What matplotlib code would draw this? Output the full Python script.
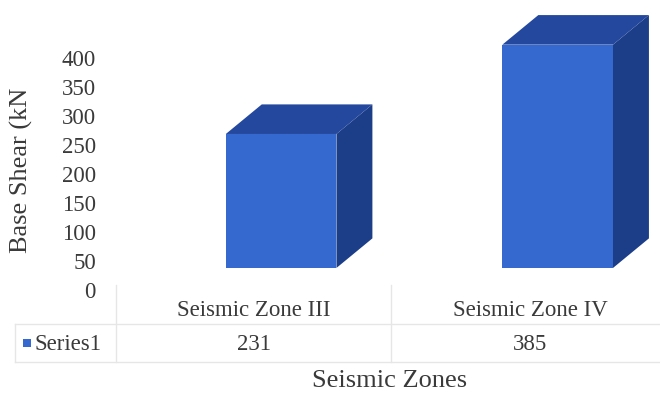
import matplotlib
matplotlib.use("Agg")
import matplotlib.pyplot as plt
from matplotlib.patches import Polygon
import numpy as np

plt.rcParams["font.family"] = ["Liberation Serif", "DejaVu Serif"]

# Data
zones = ["Seismic Zone III", "Seismic Zone IV"]
base_shear = [231, 385]
series_name = "Series1"
y_ticks = [0, 50, 100, 150, 200, 250, 300, 350, 400]

# Colours of the 3D faces
front_col = "#3569d0"
top_col = "#24489e"
side_col = "#1c3d87"
text_col = "#3a3a3a"
grid_col = "#e6e6e6"

W, H = 660, 397
fig = plt.figure(figsize=(W / 100, H / 100), dpi=100)

# main plotting area: 0 tick at y=290 px, 50 units every 29 px
ax = fig.add_axes([100 / W, (H - 290) / H, 560 / W, 290 / H])
ax.set_ylim(0, 290 * 50 / 29)
ax.set_xlim(-0.555, 1.470)
ax.set_yticks(y_ticks)
ax.set_yticklabels([str(t) for t in y_ticks])
ax.tick_params(axis="y", length=0, pad=3, labelsize=16.5, colors=text_col)
ax.set_xticks([])
for sp in ax.spines.values():
    sp.set_visible(False)

floor = 38      # front face sits a bit above the back-wall zero
offset = 0.1    # front face shifted right of the category centre
width = 0.4
dx, dy = 0.13, 51

for i, v in enumerate(base_shear):
    xl = i + offset - width / 2
    xr = xl + width
    b, t = floor, floor + v
    ax.add_patch(Polygon([(xr, b), (xr + dx, b + dy), (xr + dx, t + dy), (xr, t)],
                         closed=True, facecolor=side_col, edgecolor="none"))
    ax.add_patch(Polygon([(xl, t), (xl + dx, t + dy), (xr + dx, t + dy), (xr, t)],
                         closed=True, facecolor=top_col, edgecolor="none"))
    ax.add_patch(Polygon([(xl, b), (xr, b), (xr, t), (xl, t)],
                         closed=True, facecolor=front_col, edgecolor="none"))

ax.set_ylabel("Base Shear (kN", fontsize=19, color=text_col)
ax.yaxis.set_label_coords(-0.12, 0.414)

# data table below the chart, laid out in pixel coordinates
tab = fig.add_axes([0, 0, 1, 1], facecolor="none")
tab.set_xlim(0, W)
tab.set_ylim(H, 0)
tab.axis("off")

col_edges = [116, 391, 670]
tab.plot([15, 660], [324, 324], color=grid_col, lw=1)
tab.plot([15, 660], [362, 362], color=grid_col, lw=1)
tab.plot([15, 15], [324, 362], color=grid_col, lw=1)
for xe in col_edges[:-1]:
    tab.plot([xe, xe], [285, 362], color=grid_col, lw=1)

for i, (z, v) in enumerate(zip(zones, base_shear)):
    cx = (col_edges[i] + col_edges[i + 1]) / 2
    tab.text(cx, 311, z, ha="center", va="center", fontsize=16.5, color=text_col)
    tab.text(cx, 344, str(v), ha="center", va="center", fontsize=16.5, color=text_col)

tab.add_patch(Polygon([(23, 339), (31, 339), (31, 347), (23, 347)],
                      closed=True, facecolor=front_col, edgecolor="none"))
tab.text(34, 344, series_name, ha="left", va="center", fontsize=16.5, color=text_col)

tab.text(390, 381, "Seismic Zones", ha="center", va="center", fontsize=19, color=text_col)

fig.savefig("out.png", dpi=100)
